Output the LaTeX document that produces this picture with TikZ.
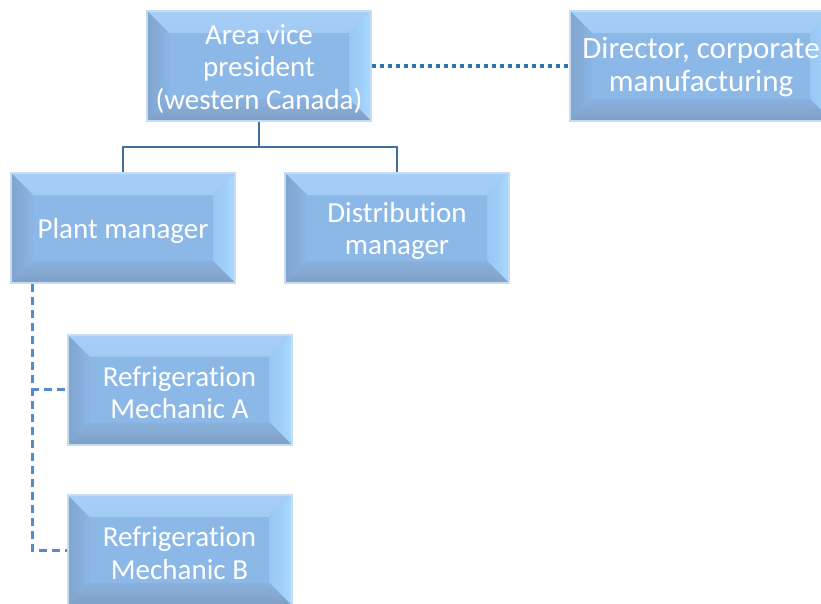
\documentclass[tikz,border=0pt]{standalone}
\usepackage{fontspec}
\setmainfont{Carlito}[Ligatures=NoCommon]
\definecolor{boxmid}{HTML}{8CB8E8}
\definecolor{boxedge}{HTML}{C6DCF0}
\definecolor{solidline}{HTML}{3F70A0}
\definecolor{dotline}{HTML}{2E75B6}
\definecolor{dashline}{HTML}{558BCC}
\tikzset{
  bevelbox/.style={draw=boxedge, line width=2pt, fill=boxmid,
    minimum width=224pt, minimum height=110pt, inner sep=0pt,
    path picture={
      \shade[top color=bevtopA, bottom color=bevtopB] (path picture bounding box.north west) -- (path picture bounding box.north east)
        -- ([shift={(-22pt,-22pt)}]path picture bounding box.north east)
        -- ([shift={(22pt,-22pt)}]path picture bounding box.north west) -- cycle;
      \shade[left color=bevleftA, right color=bevleftB] (path picture bounding box.north west) -- (path picture bounding box.south west)
        -- ([shift={(22pt,22pt)}]path picture bounding box.south west)
        -- ([shift={(22pt,-22pt)}]path picture bounding box.north west) -- cycle;
      \shade[left color=bevrightB, right color=bevrightA] (path picture bounding box.north east) -- (path picture bounding box.south east)
        -- ([shift={(-22pt,22pt)}]path picture bounding box.south east)
        -- ([shift={(-22pt,-22pt)}]path picture bounding box.north east) -- cycle;
      \shade[top color=bevbotB, bottom color=bevbotA] (path picture bounding box.south west) -- (path picture bounding box.south east)
        -- ([shift={(-22pt,22pt)}]path picture bounding box.south east)
        -- ([shift={(22pt,22pt)}]path picture bounding box.south west) -- cycle;
    }},
  boxtext/.style={text=white, align=center, font=\fontsize{29}{32.5}\selectfont, yshift=-3pt},
  solidconn/.style={draw=solidline, line width=2.2pt},
  dotconn/.style={draw=dotline, line width=4pt, dash pattern=on 4pt off 4pt},
  dashconn/.style={draw=dashline, line width=3pt, dash pattern=on 8pt off 5pt}
}
\definecolor{bevtopA}{HTML}{A6CEF7}
\definecolor{bevtopB}{HTML}{91BEEC}
\definecolor{bevleftA}{HTML}{80A4CE}
\definecolor{bevleftB}{HTML}{8AB5E4}
\definecolor{bevrightA}{HTML}{A9D9FF}
\definecolor{bevrightB}{HTML}{96C6F2}
\definecolor{bevbotA}{HTML}{7FA0C6}
\definecolor{bevbotB}{HTML}{89B1DD}
\begin{document}
\begin{tikzpicture}[x=1pt,y=-1pt]
\clip (0,0) rectangle (821,604);
\fill[white] (0,0) rectangle (821,604);
\node[bevelbox, label={[boxtext]center:{Area vice\\president\\(western Canada)}}] (avp) at (259,66) {};
\node[bevelbox, minimum width=262pt, label={[boxtext, font=\fontsize{31}{32.5}\selectfont, yshift=2pt]center:{Director, corporate\\manufacturing}}] (dir) at (701,66) {};
\node[bevelbox, label={[boxtext]center:{Plant manager}}] (plant) at (123,228) {};
\node[bevelbox, label={[boxtext]center:{Distribu\kern0pt tion\\manager}}] (dist) at (397,228) {};
\node[bevelbox, label={[boxtext]center:{Refrigera\kern0pt tion\\Mechanic A}}] (mecha) at (179.5,389.5) {};
\node[bevelbox, label={[boxtext]center:{Refrigera\kern0pt tion\\Mechanic B}}] (mechb) at (179.5,550) {};
\draw[solidconn] (avp.south) -- ++(0,25) -| (plant.north);
\draw[solidconn] (avp.south) -- ++(0,25) -| (dist.north);
\draw[dotconn] (avp.east) -- (dir.west);
\draw[dashconn] (plant.south west) ++(22,0) |- (mechb.west);
\draw[dashconn] (plant.south west) ++(22,0) |- (mecha.west);
\end{tikzpicture}
\end{document}
